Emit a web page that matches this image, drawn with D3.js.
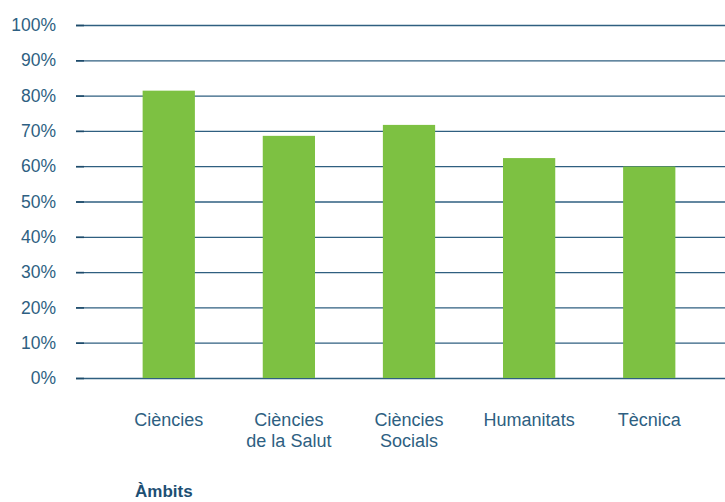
<!DOCTYPE html>
<html><head><meta charset="utf-8">
<script src="https://cdn.jsdelivr.net/npm/d3@7"></script>
<style>body{margin:0;background:#fff}svg{display:block}text{font-family:"Liberation Sans",Arial,sans-serif}</style>
</head><body><svg id="c" width="725" height="502"></svg>
<script>
const categories = [["Ciències"],["Ciències","de la Salut"],["Ciències","Socials"],["Humanitats"],["Tècnica"]];
const values = [81.4, 68.6, 71.7, 62.3, 59.9];
const yTicks = [0,10,20,30,40,50,60,70,80,90,100];
const axisTitle = "Àmbits";

const svg = d3.select("#c");
const textColor = "#2e5f82";
const gridColor = "#2f5f80";
const keys = categories.map(c => c.join(" "));
const x = d3.scaleBand().domain(keys).range([109, 709]).paddingInner(0.565).paddingOuter(0.28);
const y = d3.scaleLinear().domain([0,100]).range([378, 25]);

// grid
const g = svg.append("g");
g.selectAll("line.grid").data(yTicks).join("line")
  .attr("x1", 76).attr("x2", 725)
  .attr("y1", d => y(d)+0.5).attr("y2", d => y(d)+0.5)
  .attr("stroke", gridColor).attr("stroke-width", 1.3);
g.selectAll("line.tick").data(yTicks).join("line")
  .attr("x1", 76).attr("x2", 84)
  .attr("y1", d => y(d)+0.5).attr("y2", d => y(d)+0.5)
  .attr("stroke", "#1d4a6a").attr("stroke-width", 1.6);
g.selectAll("text.yl").data(yTicks).join("text")
  .attr("x", 56).attr("y", d => y(d)).attr("dy", "0.35em")
  .attr("text-anchor", "end").attr("fill", textColor).attr("font-size", 17.5)
  .text(d => d + "%");

// bars
svg.selectAll("rect.bar").data(values).join("rect")
  .attr("x", (d,i) => x(keys[i])).attr("width", x.bandwidth())
  .attr("y", d => y(d)).attr("height", d => y(0) - y(d))
  .attr("fill", "#7dc142");

// x labels
const xl = svg.selectAll("text.xl").data(categories).join("text")
  .attr("text-anchor", "middle").attr("fill", textColor).attr("font-size", 18)
  .attr("x", (d,i) => x(keys[i]) + x.bandwidth()/2).attr("y", 426);
xl.selectAll("tspan").data(d => d).join("tspan")
  .attr("x", function(){ return d3.select(this.parentNode).attr("x"); })
  .attr("dy", (d,i) => i === 0 ? 0 : 21).text(d => d);

svg.append("text").attr("x", 135).attr("y", 497).attr("fill", "#1d4f73")
  .attr("font-size", 17).attr("font-weight", "bold").text(axisTitle);
</script></body></html>
